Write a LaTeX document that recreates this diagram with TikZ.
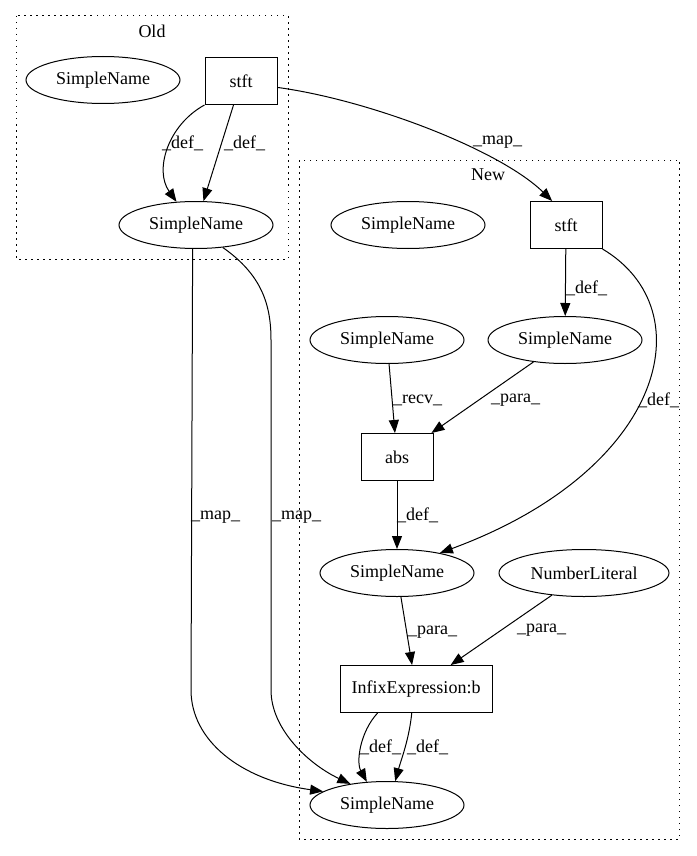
\documentclass[tikz,border=0pt]{standalone}
\usepackage{fontspec}
\setmainfont{Liberation Serif}
\usetikzlibrary{arrows.meta,shapes.geometric}
\tikzset{
sname/.style={
  ellipse, draw, line width=1pt,
  minimum width=154pt, minimum height=47pt, inner sep=0pt
  },
opbox/.style={
  rectangle, draw, line width=1pt,
  minimum width=72pt, minimum height=47pt, inner sep=6pt
  },
cluster/.style={
  draw, line width=1pt, dash pattern=on 1.5pt off 4.5pt
  },
flow/.style={
  -{Triangle[length=13pt,width=10pt]}, line width=1pt
  },
elabel/.style={
  anchor=west, inner sep=0pt
  }
}

\begin{document}
\begin{tikzpicture}[x=1pt,y=-1pt,
  every node/.style={font=\fontsize{18}{21}\selectfont}]
\useasboundingbox (0,0) rectangle (696,856);

% clusters

\draw[cluster] (16,16) rectangle (288,259);
\node (oldlbl) at (152,31) {Old};

\draw[cluster] (299,160) rectangle (679,839);
\node (newlbl) at (488,175) {New};

% old

\node[sname] (osn1) at (103,80) {SimpleName};
\node[opbox] (ostft) at (241,81) {stft};
\node[sname] (osn2) at (196,225) {SimpleName};

% new

\node[sname] (nsn0) at (408,225) {SimpleName};
\node[opbox] (nstft) at (566,225) {stft};
\node[sname] (nsn2) at (387,340) {SimpleName};
\node[sname] (nsn1) at (565,340) {SimpleName};
\node[opbox] (abs) at (397,457) {abs};
\node[sname] (nsn3) at (397,573) {SimpleName};
\node[sname, minimum width=170pt] (numlit) at (584,573) {NumberLiteral};
\node[opbox, minimum width=152pt] (infix) at (416,689) {InfixExpression:b};
\node[sname] (bsn) at (387,805) {SimpleName};

% edges old

\draw[flow] (ostft.south west) .. controls (168,125) and (154,170) .. (osn2.130);
\node[elabel] (e1) at (162,143) {\_def\_};
\draw[flow] (ostft) -- (osn2);
\node[elabel] (e2) at (224,143) {\_def\_};
\draw[flow] (ostft.-10) .. controls (370,100) and (500,150) .. (nstft.120);
\node[elabel] (e3) at (473,142) {\_map\_};

\draw[flow] (osn2.262) -- (191,690) .. controls (191,740) and (240,780) .. (bsn.168);
\node[elabel] (e4) at (191,517) {\_map\_};
\draw[flow] (osn2.-40) .. controls (262,275) and (271,305) .. (271,340)
  -- (271,690) .. controls (271,730) and (310,765) .. (bsn.150);
\node[elabel] (e5) at (272,517) {\_map\_};

% edges new

\draw[flow] (nstft) -- (nsn1);
\node[elabel] (e6) at (566,288) {\_def\_};
\draw[flow] (nstft.south east) .. controls (705,310) and (665,470) .. (nsn3.25);
\node[elabel] (e7) at (638,400) {\_def\_};
\draw[flow] (nsn2) -- (abs);
\node[elabel] (e8) at (393,400) {\_recv\_};
\draw[flow] (nsn1) -- (abs);
\node[elabel] (e9) at (491,400) {\_para\_};
\draw[flow] (abs) -- (nsn3);
\node[elabel] (e10) at (397,515) {\_def\_};
\draw[flow] (nsn3) -- (infix);
\node[elabel] (e11) at (408,632) {\_para\_};
\draw[flow] (numlit) -- (infix);
\node[elabel] (e12) at (517,630) {\_para\_};
\draw[flow] (infix.212) .. controls (360,732) and (356,762) .. (bsn.131);
\node[elabel] (e13) at (360,747) {\_def\_};
\draw[flow] (infix.260) .. controls (409,740) and (401,760) .. (bsn.71);
\node[elabel] (e14) at (407,747) {\_def\_};

\end{tikzpicture}
\end{document}
